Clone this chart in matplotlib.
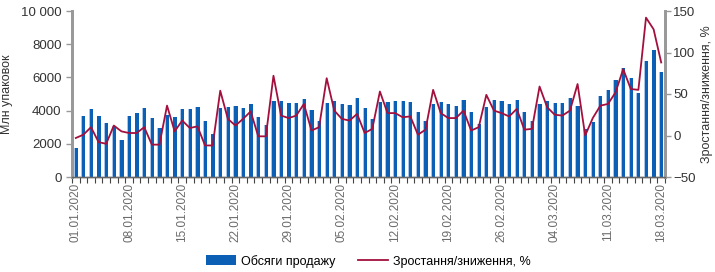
import numpy as np
import pandas as pd
import matplotlib
matplotlib.use("Agg")
import matplotlib.pyplot as plt
from matplotlib.patches import Patch
from matplotlib.lines import Line2D

plt.rcParams['font.family'] = ['Liberation Sans', 'DejaVu Sans']

dates = pd.date_range('2020-01-01', '2020-03-18', freq='D')

# обсяги продажу, млн упаковок
sales = [1740, 3660, 4120, 3700, 3260, 3100, 2200, 3700, 3840, 4180,
         3560, 2980, 3760, 3620, 4080, 4100, 4220, 3380, 2620, 4160,
         4240, 4260, 4180, 4400, 3640, 3120, 4560, 4600, 4460, 4460,
         4700, 4020, 3400, 4460, 4560, 4380, 4320, 4740, 4140, 3480,
         4520, 4520, 4600, 4560, 4520, 3900, 3380, 4420, 4540, 4420,
         4300, 4660, 3900, 3220, 4200, 4640, 4600, 4400, 4660, 3940,
         3360, 4400, 4600, 4460, 4460, 4740, 4260, 2900, 3320, 4900,
         5220, 5860, 6560, 5980, 5060, 7000, 7660, 6340]

# зростання/зниження, %
change = [-3, 1, 10, -8, -10, 12, 5, 3, 3, 10,
          -11, -11, 36, 5, 18, 9, 11, -12, -12, 54,
          20, 12, 20, 29, -1, -1, 72, 24, 21, 24,
          38, 6, 10, 69, 30, 20, 18, 26, 3, 8,
          53, 27, 27, 22, 23, 1, 7, 55, 27, 21,
          21, 30, 6, 10, 49, 30, 27, 23, 32, 7,
          8, 59, 34, 25, 24, 30, 62, 0, 21, 36,
          38, 52, 80, 56, 55, 142, 128, 88]

labels = [d.strftime('%d.%m.%Y') for d in dates]

bar_color = '#0b5fb4'
light_color = '#a8c6ea'
line_color = '#a3103e'
axis_color = '#999999'
text_color = '#333333'

fig = plt.figure(figsize=(7.15, 2.72), dpi=100)
ax = fig.add_axes([72 / 715, 1 - 177 / 272, 593 / 715, 166 / 272])
ax2 = ax.twinx()

x = np.arange(len(dates))
w = 0.55
ax.bar(x, sales, width=w, color=bar_color, zorder=2)
ax.bar(x - w / 2 + 0.06, sales, width=0.12, color=light_color, zorder=3)
ax2.plot(x, change, color=line_color, lw=1.3, zorder=4)

ax.set_xlim(-0.35, len(dates) - 0.65)
ax.set_ylim(0, 10000)
ax2.set_ylim(-50, 150)

ax.set_yticks(range(0, 10001, 2000))
ax.set_yticklabels(['0', '2000', '4000', '6000', '8000', '10 000'])
ax2.set_yticks(range(-50, 151, 50))
ax2.set_yticklabels(['−50', '0', '50', '100', '150'])

ax.set_xticks(x[::7])
ax.set_xticklabels(labels[::7], rotation=90, fontsize=8.5, color='#6a6a6a')
ax.set_xticks(np.arange(-0.5, len(dates), 1), minor=True)
ax.tick_params(axis='x', which='major', length=0, pad=4)
ax.tick_params(axis='x', which='minor', length=4, width=0.8, color='#444444')
ax.tick_params(axis='y', length=4, width=1, color=axis_color, labelsize=9.5, labelcolor=text_color)
ax2.tick_params(axis='y', length=4, width=1, color=axis_color, labelsize=9.5, labelcolor=text_color, pad=2)

for a in (ax, ax2):
    a.spines['top'].set_visible(False)
    a.spines['left'].set_color(axis_color)
    a.spines['right'].set_color(axis_color)
    a.spines['left'].set_linewidth(2)
    a.spines['right'].set_linewidth(2)
    a.spines['bottom'].set_color('#666666')
    a.spines['bottom'].set_linewidth(1)

ax.set_ylabel('Млн упаковок', fontsize=9, color=text_color, labelpad=6)
ax2.set_ylabel('Зростання/зниження, %', fontsize=9, color=text_color, labelpad=4)

handles = [Patch(facecolor=bar_color, edgecolor='none'),
           Line2D([0], [0], color=line_color, lw=1.3)]
fig.legend(handles, ['Обсяги продажу', 'Зростання/зниження, %'],
           loc='center', bbox_to_anchor=(0.515, 0.04), ncol=2, frameon=False,
           fontsize=9, handlelength=2.4, handleheight=0.9, columnspacing=1.8,
           handletextpad=0.4)

fig.savefig('out.png', dpi=100)
